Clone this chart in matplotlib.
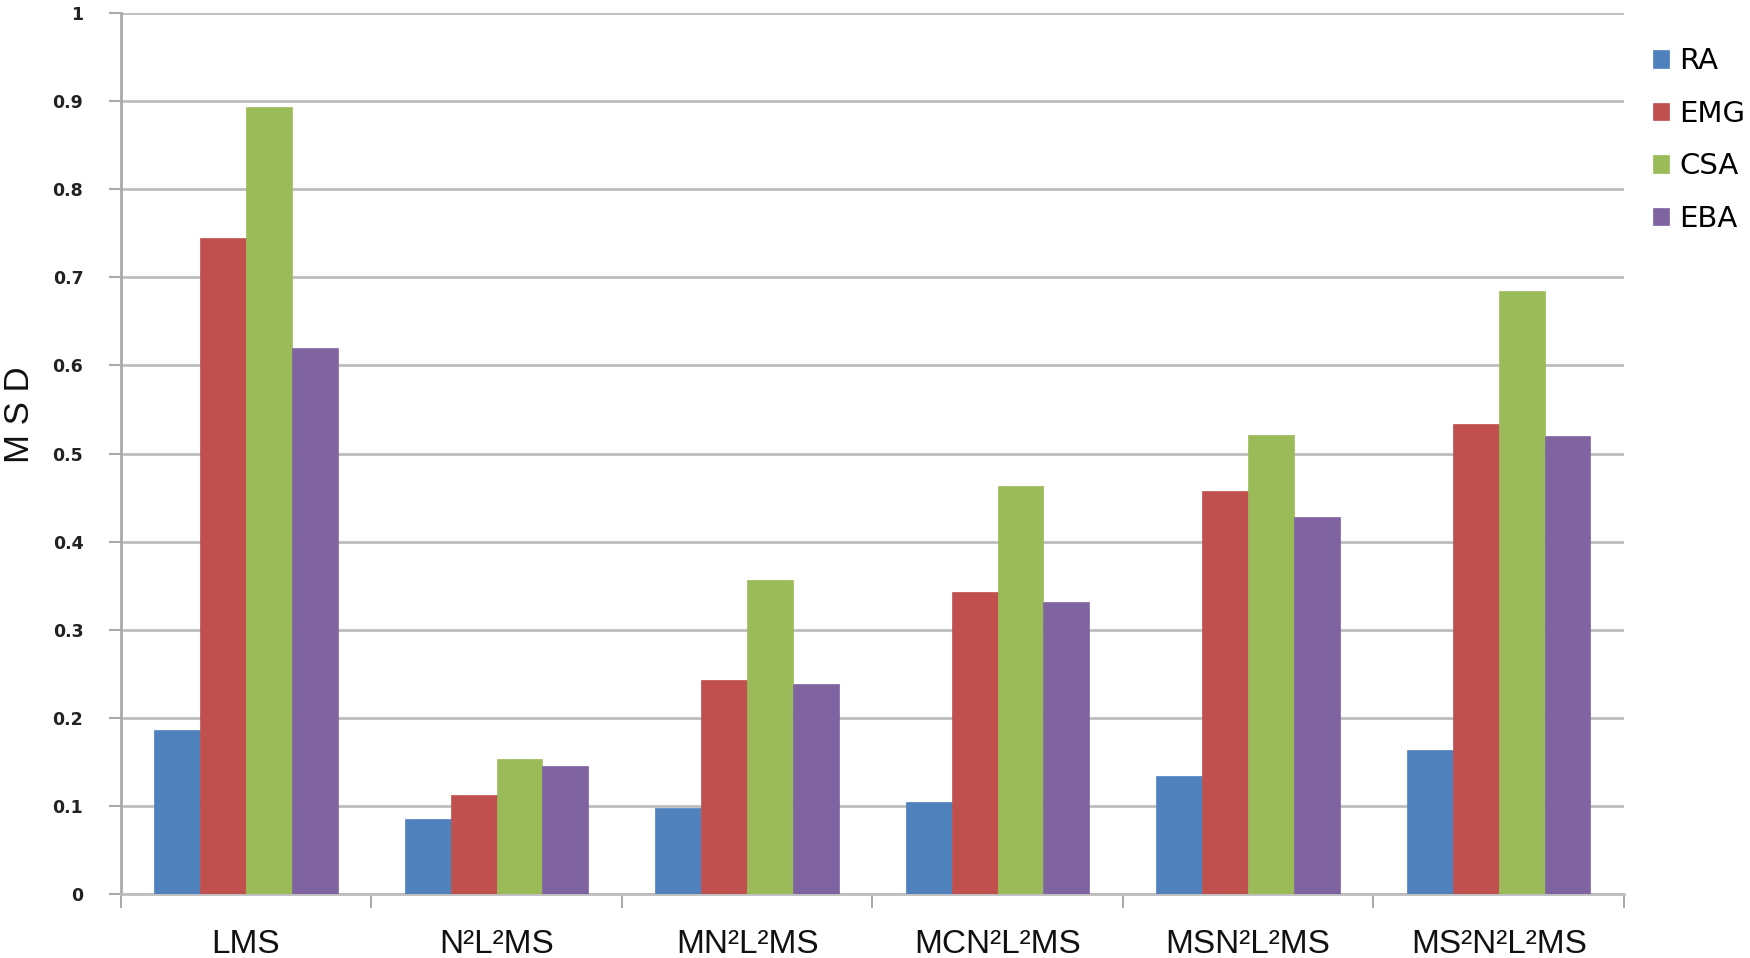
import matplotlib
matplotlib.use("Agg")
import matplotlib.pyplot as plt
import numpy as np

categories = ["LMS", "N²L²MS", "MN²L²MS", "MCN²L²MS", "MSN²L²MS", "MS²N²L²MS"]
series_names = ["RA", "EMG", "CSA", "EBA"]
RA = [0.186, 0.085, 0.098, 0.105, 0.134, 0.163]
EMG = [0.745, 0.112, 0.243, 0.343, 0.458, 0.534]
CSA = [0.893, 0.153, 0.356, 0.463, 0.521, 0.684]
EBA = [0.620, 0.145, 0.238, 0.332, 0.428, 0.520]
yticks = [0, 0.1, 0.2, 0.3, 0.4, 0.5, 0.6, 0.7, 0.8, 0.9, 1]
ytick_labels = ["0", "0.1", "0.2", "0.3", "0.4", "0.5", "0.6", "0.7", "0.8", "0.9", "1"]

colors = ["#4F81BD", "#C0504D", "#9BBB59", "#8064A2"]

fig = plt.figure(figsize=(17.5, 9.58), dpi=100)
ax = fig.add_axes([0.069, 0.0668, 0.859, 0.9195])

x = np.arange(len(categories))
bw = 0.183
for i, (vals, c, name) in enumerate(zip([RA, EMG, CSA, EBA], colors, series_names)):
    ax.bar(x + (i - 1.5) * bw, vals, width=bw, color=c, label=name, zorder=3,
           edgecolor=c, linewidth=0.5)

ax.set_xlim(-0.5, len(categories) - 0.5)
ax.set_ylim(0, 1)
ax.set_yticks(yticks)
ax.set_yticklabels(ytick_labels, fontsize=12.5, fontweight="bold", color="#222222")
ax.yaxis.grid(True, color="#BDBDBD", linewidth=2.0, zorder=0)
ax.set_axisbelow(True)

ax.set_xticks(x)
ax.set_xticklabels(categories, fontsize=24, family="Liberation Sans", color="#111111")
ax.set_xticks(np.arange(-0.5, len(categories)), minor=True)
ax.tick_params(axis="x", which="major", length=0, pad=25)
ax.tick_params(axis="x", which="minor", length=10, width=1.2, color="#999999", direction="out")
ax.tick_params(axis="y", length=9, width=1.5, color="#AAAAAA", direction="out", pad=18)

for s in ["top", "right"]:
    ax.spines[s].set_visible(False)
ax.spines["left"].set_color("#AAAAAA")
ax.spines["left"].set_linewidth(2.0)
ax.spines["bottom"].set_color("#BDBDBD")
ax.spines["bottom"].set_linewidth(2.0)

fig.text(0.011, 0.567, "M S D", rotation=90, fontsize=25, family="Liberation Sans",
         va="center", ha="center", color="#111111")

leg = fig.legend(loc="upper left", bbox_to_anchor=(0.938, 0.963), frameon=False,
                 fontsize=21, handlelength=0.55, handleheight=0.55, handletextpad=0.35,
                 labelspacing=0.84, borderaxespad=0)

fig.savefig("out.png", dpi=100)
